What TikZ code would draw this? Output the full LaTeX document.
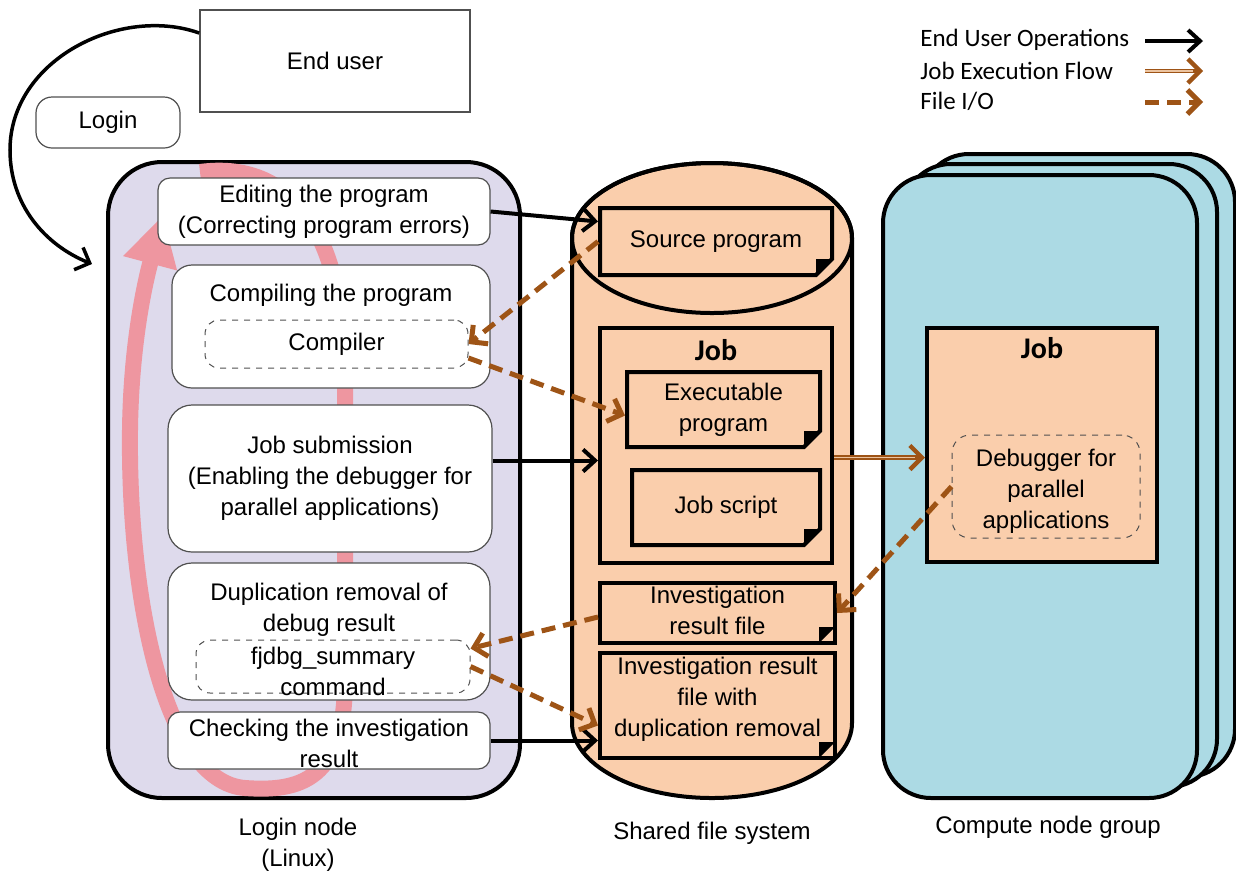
\documentclass[tikz,border=0pt]{standalone}
\usepackage{fontspec}
\setmainfont{Liberation Sans}
\newfontfamily\legendfont{Carlito}
\usetikzlibrary{arrows.meta,shapes.misc,positioning,calc}

\definecolor{loginfill}{RGB}{222,218,236}
\definecolor{fsfill}{RGB}{250,206,172}
\definecolor{computefill}{RGB}{172,218,228}
\definecolor{brfile}{RGB}{158,84,22}
\definecolor{flowcore}{RGB}{236,196,160}
\definecolor{cyclepink}{RGB}{238,150,160}
\definecolor{boxline}{RGB}{80,80,80}

\tikzset{
  every node/.style={font=\fontsize{12}{15.5}\selectfont, align=center, inner sep=0pt},
  plainbox/.style={draw=boxline, fill=white, line width=0.8pt},
  task/.style={draw=boxline, fill=white, line width=0.6pt, rounded corners=6pt},
  tool/.style={draw=boxline, dashed, line width=0.5pt, rounded corners=7pt},
  loginbox/.style={draw, line width=2pt, fill=loginfill, rounded corners=27pt,
    minimum width=206pt, minimum height=318pt},
  cnode/.style={draw, line width=2pt, fill=computefill, rounded corners=24pt,
    minimum width=157pt, minimum height=311.5pt},
  jobbox/.style={draw, line width=2pt, fill=fsfill},
  doc/.style={draw, line width=2pt, fill=fsfill, chamfered rectangle,
    chamfered rectangle corners=south east, chamfered rectangle sep=4pt,
    path picture={\fill[black] ([xshift=-8pt]path picture bounding box.south east)
      -- ([yshift=8pt]path picture bounding box.south east)
      -- ([shift={(-8pt,8pt)}]path picture bounding box.south east) -- cycle;}},
  jobtitle/.style={font=\legendfont\bfseries\fontsize{15}{18}\selectfont},
  legend/.style={font=\legendfont\fontsize{12.5}{15}\selectfont, anchor=west},
  userop/.style={draw=black, line width=2pt, -{Straight Barb[length=6pt,width=11pt]}},
  fileio/.style={draw=brfile, line width=2.5pt, dash pattern=on 7pt off 4pt,
    -{Straight Barb[length=6pt,width=12pt]}},
  jobflow/.style={draw=brfile, line width=2.2pt, -{Straight Barb[length=6pt,width=12pt]},
    postaction={draw=flowcore, line width=0.7pt, -, shorten >=5pt}},
  cycleband/.style={draw=cyclepink, line width=8pt, -{Triangle[length=25pt,width=26pt]}},
}

\begin{document}
\begin{tikzpicture}[x=0.5pt,y=-0.5pt]
  \useasboundingbox (0,0) rectangle (1236,875);

  % Legend
  \node[legend] (leg1) at (920,40) {End User Operations};
  \node[legend] (leg2) at (920,71) {Job Execution Flow};
  \node[legend] (leg3) at (920,101) {File I/O};
  \coordinate (leg1a) at (1145,41);  \coordinate (leg1b) at (1203,41);
  \coordinate (leg2a) at (1145,71);  \coordinate (leg2b) at (1203,71);
  \coordinate (leg3a) at (1145,102); \coordinate (leg3b) at (1203,102);
  \draw[userop] (leg1a) -- (leg1b);
  \draw[jobflow] (leg2a) -- (leg2b);
  \draw[fileio] (leg3a) -- (leg3b);

  % End user
  \node[plainbox, minimum width=135pt, minimum height=51pt] (enduser) at (335,61) {End user};
  \node[task, rounded corners=8pt, minimum width=72pt, minimum height=25.5pt] (login) at (108,122.5) {Login};

  % Login node
  \node[loginbox] (loginnode) at (314,480) {};
  \draw[cycleband] (200,172) .. controls (290,160) and (345,230) .. (345,380) -- (345,680)
    .. controls (345,780) and (300,792) .. (245,788)
    .. controls (165,782) and (128,600) .. (130,430)
    .. controls (131,350) and (143,290) .. (163,215);
  \node[task, minimum width=166pt, minimum height=33.5pt] (edit) at (324,211.5)
    {Editing the program\\(Correcting program errors)};
  \node[task, rounded corners=10pt, minimum width=159pt, minimum height=61.5pt] (compile) at (331,326.5) {};
  \node (compiletxt) at (331,295) {Compiling the program};
  \node[tool, minimum width=131.5pt, minimum height=24pt] (compiler) at (336.5,344) {Compiler};
  \node[task, rounded corners=12pt, minimum width=162pt, minimum height=73.5pt] (submit) at (330,478.5)
    {Job submission\\(Enabling the debugger for\\parallel applications)};
  \node[task, rounded corners=12pt, minimum width=161pt, minimum height=68.5pt] (dup) at (329,631.5) {};
  \node (duptxt) at (329,610) {Duplication removal of\\debug result};
  \node[tool, minimum width=137pt, minimum height=26.5pt] (fjdbg) at (333,666.5) {};
  \node (fjdbgtxt) at (333,671) {fjdbg\_summary\\command};
  \node[task, minimum width=161pt, minimum height=28.5pt] (check) at (329,740.5) {};
  \node (checktxt) at (329,743) {Checking the investigation\\result};
  \node (loginlbl) at (298,845) {Login node\\(Linux)};

  % Shared file system
  \filldraw[line width=2pt, fill=fsfill] (572,238) -- (572,723)
    arc[start angle=180, end angle=360, x radius=70pt, y radius=37.5pt] -- (852,238)
    arc[start angle=0, end angle=180, x radius=70pt, y radius=37.5pt];
  \draw[line width=2pt] (712,238) ellipse[x radius=70pt, y radius=37.5pt];
  \node[doc, minimum width=116pt, minimum height=33.5pt] (src) at (716,241.5) {Source program};
  \node[jobbox, minimum width=116pt, minimum height=117.5pt] (jobA) at (716,445.5) {};
  \node[jobtitle] (jobAlbl) at (716,350) {Job};
  \node[doc, minimum width=96.5pt, minimum height=37.5pt] (exe) at (723.5,409.5) {Executable\\program};
  \node[doc, minimum width=94pt, minimum height=37.5pt] (script) at (726,507.5) {Job script};
  \node[doc, minimum width=117.5pt, minimum height=30pt] (inv) at (717.5,613) {};
  \node (invtxt) at (717.5,610) {Investigation\\result file};
  \node[doc, minimum width=117.5pt, minimum height=52.5pt] (invdup) at (717.5,705.5) {};
  \node (invduptxt) at (717.5,699) {Investigation result\\file with\\duplication removal};
  \node (fslbl) at (712,833) {Shared file system};

  % Compute node group
  \node[cnode] (cback) at (1078,465.5) {};
  \node[cnode] (cmid) at (1060,475.5) {};
  \node[cnode] (cfront) at (1040,486.5) {};
  \node[jobbox, minimum width=115pt, minimum height=117pt] (jobB) at (1042,445) {};
  \node[jobtitle] (jobBlbl) at (1042,348) {Job};
  \node[tool, rounded corners=9pt, minimum width=94pt, minimum height=51.5pt] (dbg) at (1046,486.5) {};
  \node (dbgtxt) at (1046,491) {Debugger for\\parallel\\applications};
  \node (cnlbl) at (1048,827) {Compute node group};

  % End user operations
  \coordinate (logintip) at (92,264);
  \draw[line width=1.75pt, -{Straight Barb[length=6pt,width=12pt]}] ([yshift=14pt]enduser.west)
    .. controls (120,5) and (10,60) .. (10,150) .. controls (10,205) and (45,245) .. (logintip);
  \draw[userop] (edit.east) -- ([yshift=10pt]src.west);
  \draw[userop] ([yshift=9pt]submit.east) -- ([yshift=9pt]submit.east -| jobA.west);
  \draw[userop] (check.east) -- (check.east -| invdup.west);

  % File I/O
  \draw[fileio] (src.west) -- (compiler.east);
  \draw[fileio] ([yshift=-7pt]compiler.east) -- ([yshift=-3pt]exe.west);
  \draw[fileio] (dbg.west) -- (inv.east);
  \draw[fileio] ([yshift=-2pt]inv.west) -- ([yshift=9pt]fjdbg.east);
  \draw[fileio] (fjdbg.east) -- ([yshift=-10pt]invdup.west);

  % Job execution flow
  \draw[jobflow] ([yshift=-6pt]jobA.east) -- ([yshift=-6pt]jobA.east -| jobB.west);
\end{tikzpicture}
\end{document}
